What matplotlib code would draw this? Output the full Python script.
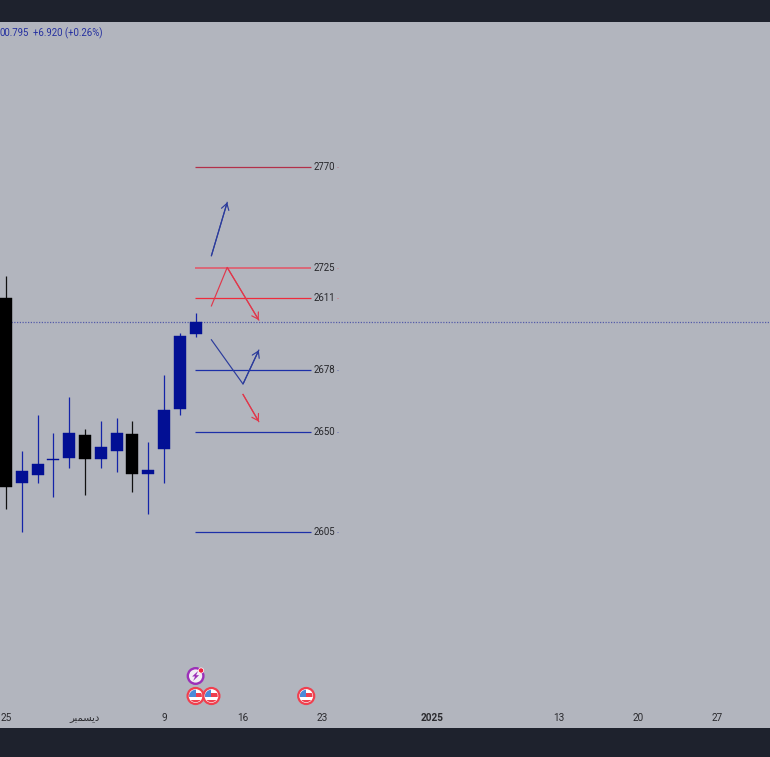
import matplotlib
matplotlib.use("Agg")
import matplotlib.pyplot as plt
from matplotlib.patches import Circle, Rectangle, Polygon
from matplotlib.transforms import IdentityTransform

plt.rcParams['font.family'] = ['Roboto', 'DejaVu Sans']

# Candles: index, open, high, low, close
idx    = list(range(13))
opens  = [2710.6, 2627.0, 2630.6, 2637.5, 2638.6, 2648.7, 2638.1, 2641.7, 2649.1, 2631.3, 2642.6, 2660.6, 2694.4]
highs  = [2720.9, 2641.7, 2657.9, 2649.6, 2665.9, 2651.6, 2655.2, 2656.7, 2655.2, 2645.5, 2676.0, 2694.8, 2703.9]
lows   = [2615.5, 2605.1, 2627.0, 2620.7, 2633.8, 2621.7, 2633.8, 2632.2, 2623.2, 2613.0, 2627.3, 2657.9, 2693.3]
closes = [2625.2, 2632.7, 2635.6, 2637.5, 2649.7, 2638.1, 2643.5, 2649.7, 2631.3, 2633.0, 2660.0, 2693.6, 2699.9]

# Horizontal levels: price, label, colour
level_prices = [2770, 2724.5, 2710.6, 2678.2, 2650, 2605]
level_labels = ["2770", "2725", "2611", "2678", "2650", "2605"]
level_colors = ["#b2304a", "#e05a6c", "#ee2c3c", "#1c2fa8", "#1c2fa8", "#1c2fa8"]
level_widths = [0.9, 1.2, 0.9, 0.9, 0.9, 0.9]
level_start, level_end = 11.96, 19.3
current_price = 2699.9

# Projection paths (index, price)
path_blue_up   = ([13, 14], [2729.9, 2754.0])
path_red_peak  = ([13, 14, 16], [2707.2, 2724.6, 2700.8])
path_blue_v    = ([13, 15, 16], [2691.9, 2671.9, 2687.2])
path_red_down  = ([15, 16], [2667.2, 2654.9])

# Axis ticks
tick_pos    = [0, 5, 10, 15, 20, 27, 35, 40, 45]
tick_labels = ["25", "\ufeae\ufe92\ufee4\ufeb4\ufbfe\ufea9", "9", "16", "23", "2025", "13", "20", "27"]

# Event icons (index)
flag_events = [12, 13, 19]
bolt_events = [12]

W, H = 770, 757
BG, DARK = "#b2b5be", "#1e222d"
UP, DOWN = "#020f94", "#000000"
X0, DX = 6.0, 15.8
P_TOP, P_BOT = 2835.55, 2516.4

fig = plt.figure(figsize=(W / 100, H / 100), dpi=100, facecolor=DARK)
ax = fig.add_axes([0, 29 / H, 1, 706 / H], facecolor=BG)
ax.set_xlim(-X0 / DX, (W - X0) / DX)
ax.set_ylim(P_BOT, P_TOP)
for s in ax.spines.values():
    s.set_visible(False)
ax.set_yticks([])
ax.set_xticks(tick_pos)
ax.set_xticklabels(tick_labels, fontsize=7.2, color="#2a2a2e")
ax.tick_params(axis="x", length=0, pad=-11)
for lab in ax.get_xticklabels():
    if lab.get_text() == "2025":
        lab.set_fontweight("bold")

ax.axhline(current_price, color="#2b35a0", lw=0.9, ls=(0, (1, 1.2)), alpha=0.7, zorder=1)

for i, o, h, l, c in zip(idx, opens, highs, lows, closes):
    col = UP if c >= o else DOWN
    wick_col = "#1424a8" if c >= o else "#111111"
    ax.vlines(i, l, h, color=wick_col, lw=0.9, zorder=2)
    lo, hi = min(o, c), max(o, c)
    ax.bar(i, max(hi - lo, 0.55), bottom=lo, width=0.76, color=col, edgecolor=col, lw=0.3, zorder=3)

for p, lab, col, w in zip(level_prices, level_labels, level_colors, level_widths):
    ax.hlines(p, level_start, level_end, color=col, lw=w, zorder=2)
    ax.text(level_end + 0.14, p, lab, fontsize=6.9, color="#26262a", va="center", ha="left", zorder=4)
    ax.hlines(p, level_end + 1.62, level_end + 1.74, color=col, lw=0.6, alpha=0.6, zorder=2)

def draw_path(xs, ys, col):
    ax.plot(xs, ys, color=col, lw=0.85, zorder=4, solid_joinstyle="miter")
    ax.annotate("", xy=(xs[-1], ys[-1]), xytext=(xs[-2], ys[-2]), zorder=4,
                arrowprops=dict(arrowstyle="->,head_length=0.4,head_width=0.25", color=col,
                                lw=0.85, mutation_scale=11, shrinkA=0, shrinkB=0))

draw_path(*path_blue_up, "#2c3c9c")
draw_path(*path_red_peak, "#e0384c")
draw_path(*path_blue_v, "#2c3c9c")
draw_path(*path_red_down, "#e0384c")

ax.text(0, 1 - 11 / 706, "00.795", transform=ax.transAxes, fontsize=6.9, color="#2530a0", va="center", ha="left")
ax.text(33 / W, 1 - 11 / 706, "+6.920 (+0.26%)", transform=ax.transAxes, fontsize=6.9, color="#2530a0", va="center", ha="left")

fig.canvas.draw()
px = IdentityTransform()

def center(i, y_from_top):
    return (ax.transData.transform((i, 2700))[0], H - y_from_top)

def flag(i):
    cx, cy = center(i, 696)
    fig.add_artist(Circle((cx, cy), 8, transform=px, fc="white", ec="#f0404f", lw=1.6, zorder=5))
    clip = Circle((cx, cy), 6.3, transform=px)
    for yy, hh in [(cy - 7, 3.5), (cy - 0.5, 3.2)]:
        r = Rectangle((cx - 7, yy), 14, hh, transform=px, fc="#ef3e4e", ec="none", zorder=6)
        fig.add_artist(r)
        r.set_clip_path(clip)
    b = Rectangle((cx - 7, cy - 0.5), 7, 7.5, transform=px, fc="#4a8ad8", ec="none", zorder=7)
    fig.add_artist(b)
    b.set_clip_path(clip)

def bolt(i):
    cx, cy = center(i, 676)
    fig.add_artist(Circle((cx, cy), 7.8, transform=px, fc="#f2eef4", ec="#9c2fb8", lw=1.7, zorder=5))
    pts = [(cx + 2.5, cy + 5), (cx - 3.5, cy - 0.5), (cx - 0.5, cy - 0.5), (cx - 2.5, cy - 5),
           (cx + 3.5, cy + 0.8), (cx + 0.5, cy + 0.8)]
    fig.add_artist(Polygon(pts, closed=True, transform=px, fc="#9c2fb8", ec="none", zorder=6))
    fig.add_artist(Circle((cx + 5.5, cy + 5.5), 2.6, transform=px, fc="#f02040", ec="white", lw=0.5, zorder=7))

for i in flag_events:
    flag(i)
for i in bolt_events:
    bolt(i)

fig.savefig("out.png", dpi=100, facecolor=DARK)
